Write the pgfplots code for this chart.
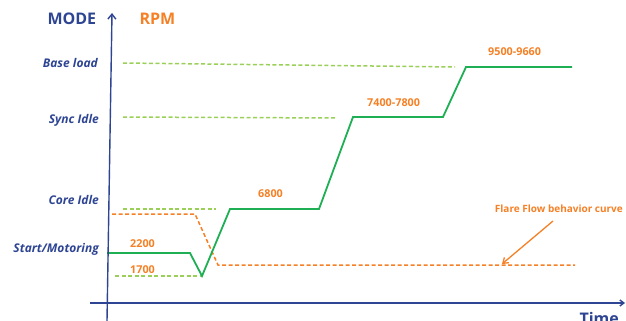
\documentclass[border=0pt]{standalone}
\usepackage{pgfplots}
\pgfplotsset{compat=1.18}
\usepackage{fontspec}
\setmainfont{Open Sans}
\usetikzlibrary{arrows.meta}

\definecolor{navy}{HTML}{2E4593}
\definecolor{rpmorange}{HTML}{F58025}
\definecolor{runline}{HTML}{1EAF55}
\definecolor{modeline}{HTML}{9ACF58}

\begin{document}
\begin{tikzpicture}
\begin{axis}[
  name=ax,
  scale only axis,
  width=626pt, height=321pt,
  xmin=0, xmax=626, ymin=0, ymax=321,
  y dir=reverse,
  hide axis,
  clip=false,
]
% mode reference levels
\addplot[modeline, line width=1.5pt, dash pattern=on 4pt off 2.5pt] coordinates {(123,63) (455,67)};
\addplot[modeline, line width=1.5pt, dash pattern=on 4pt off 2.5pt] coordinates {(123,117) (336,118)};
\addplot[modeline, line width=1.5pt, dash pattern=on 4pt off 2.5pt] coordinates {(123,209) (216,209)};
\addplot[modeline, line width=1.5pt, dash pattern=on 4pt off 2.5pt] coordinates {(115,276) (200,276)};

% flare flow behaviour
\addplot[rpmorange, line width=1.5pt, dash pattern=on 4pt off 2.5pt] coordinates {
  (112,214) (195,214) (218,265) (575,265)};

% engine speed profile
\addplot[runline, line width=1.8pt] coordinates {
  (107,253) (190,253) (202,276) (230,209) (319,209)
  (353,117) (443,117) (466,67) (572,67)};

% axes
\draw[navy, line width=1.4pt, -{Straight Barb[length=5pt,width=8pt]}]
  (axis cs:107,321) -- (axis cs:112,13);
\draw[navy, line width=1.4pt, -{Straight Barb[length=4pt,width=6pt]}]
  (axis cs:90,303) -- (axis cs:625,303);

% headings
\node[anchor=base west, navy, font=\bfseries\fontsize{16}{18}\selectfont] at (axis cs:44,25) {MODE};
\node[anchor=base west, rpmorange, font=\bfseries\fontsize{16}{18}\selectfont] at (axis cs:136,25) {RPM};
\node[anchor=base west, navy, font=\bfseries\fontsize{16}{18}\selectfont] at (axis cs:576,324) {Time};

% mode names
\begin{scope}[every node/.style={anchor=base east, navy, font=\bfseries\itshape\fontsize{12}{14}\selectfont, inner sep=0pt}]
\node at (axis cs:98,67) {Base load};
\node at (axis cs:99,123) {Sync Idle};
\node at (axis cs:99,204) {Core Idle};
\node at (axis cs:99,252) {Start/Motoring};
\end{scope}

% speed values
\begin{scope}[every node/.style={anchor=base west, rpmorange, font=\bfseries\fontsize{10.8}{12}\selectfont, inner sep=0pt}]
\node at (axis cs:130,247) {2200};
\node at (axis cs:130,273) {1700};
\node at (axis cs:258,197) {6800};
\node at (axis cs:367,106) {7400-7800};
\node at (axis cs:488,56) {9500-9660};
\end{scope}
\node[anchor=base east, rpmorange, font=\bfseries\fontsize{10}{11}\selectfont, inner sep=0pt] at (axis cs:623,212) {Flare Flow behavior curve};

\draw[rpmorange, line width=1.3pt, -{Straight Barb[length=5pt,width=7pt]}]
  (axis cs:553,221) -- (axis cs:502,264);
\end{axis}
\pgfresetboundingbox
\useasboundingbox (ax.south west) rectangle (ax.north east);
\end{tikzpicture}
\end{document}
